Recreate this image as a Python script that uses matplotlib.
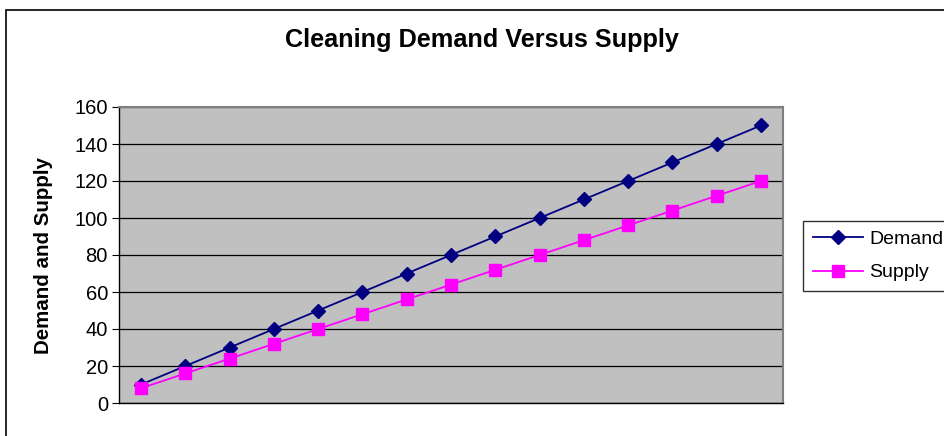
import matplotlib
matplotlib.use('Agg')
import matplotlib.pyplot as plt
from matplotlib.patches import Rectangle

periods = list(range(1, 16))
demand = [10, 20, 30, 40, 50, 60, 70, 80, 90, 100, 110, 120, 130, 140, 150]
supply = [8, 16, 24, 32, 40, 48, 56, 64, 72, 80, 88, 96, 104, 112, 120]
yticks = [0, 20, 40, 60, 80, 100, 120, 140, 160]

plt.rcParams['font.family'] = ['Liberation Sans', 'DejaVu Sans']

fig = plt.figure(figsize=(9.44, 4.36), dpi=100)
fig.patches.append(Rectangle((6/944, -0.01), 1.0, 1 - 10/436 + 0.01,
                             transform=fig.transFigure, fill=False,
                             edgecolor='black', linewidth=1.2))

ax = fig.add_axes([119/944, 33/436, 664/944, 296/436])
ax.set_facecolor('#c0c0c0')
ax.plot(periods, demand, color='#000080', marker='D', markersize=7.5,
        linewidth=1.3, label='Demand')
ax.plot(periods, supply, color='#ff00ff', marker='s', markersize=8.5,
        linewidth=1.3, label='Supply')

ax.set_xlim(0.5, 15.5)
ax.set_ylim(0, 160)
ax.set_yticks(yticks)
ax.set_xticks([])
ax.yaxis.grid(True, color='black', linewidth=0.9)
ax.set_axisbelow(True)
ax.tick_params(axis='y', labelsize=14.5, length=5, direction='out', pad=3)
for s in ['top', 'right']:
    ax.spines[s].set_color('#808080')
    ax.spines[s].set_linewidth(1.5)
for s in ['left', 'bottom']:
    ax.spines[s].set_color('black')
    ax.spines[s].set_linewidth(1.0)

ax.set_ylabel('Demand and Supply', fontsize=14.8, fontweight='bold')
ax.yaxis.set_label_coords(-0.099, 0.5)
fig.text(0.51, 1 - 40/436, 'Cleaning Demand Versus Supply', ha='center',
         va='center', fontsize=18.2, fontweight='bold')

leg = fig.legend(loc='center left', bbox_to_anchor=(803/944, 1 - 256/436),
                 fontsize=14, frameon=True, fancybox=False, edgecolor='black',
                 borderpad=0.5, labelspacing=0.8, handlelength=2.6,
                 handletextpad=0.3, borderaxespad=0)
leg.get_frame().set_linewidth(1.0)

fig.savefig('out.png', dpi=100)
